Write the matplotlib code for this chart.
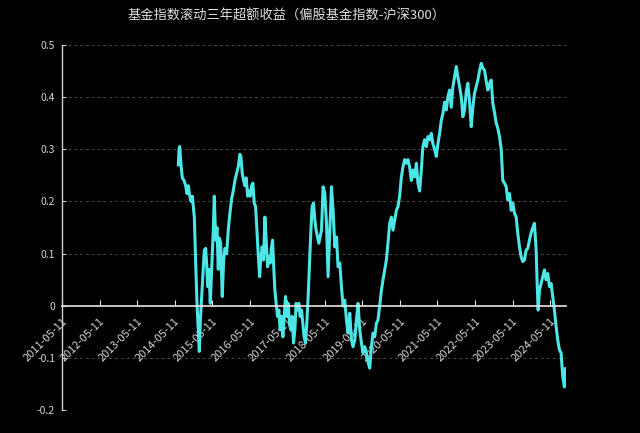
import numpy as np
import matplotlib
matplotlib.use('Agg')
import matplotlib.pyplot as plt
from matplotlib.ticker import FuncFormatter

plt.rcParams['font.family'] = ['Noto Sans CJK SC', 'DejaVu Sans']
plt.rcParams['axes.unicode_minus'] = False

# time in decimal years, rolling 3y excess return (fund index - CSI 300)
t = [2014.453, 2014.472, 2014.490, 2014.525, 2014.559, 2014.605, 2014.650, 2014.684, 2014.719, 2014.746,
     2014.791, 2014.825, 2014.879, 2014.916, 2014.950, 2014.985, 2015.012, 2015.038, 2015.075, 2015.118,
     2015.145, 2015.182, 2015.208, 2015.235, 2015.270, 2015.304, 2015.341, 2015.384, 2015.411, 2015.448,
     2015.482, 2015.517, 2015.544, 2015.581, 2015.623, 2015.661, 2015.695, 2015.740, 2015.783, 2015.828,
     2015.873, 2015.916, 2015.961, 2016.006, 2016.049, 2016.094, 2016.121, 2016.155, 2016.192, 2016.227,
     2016.262, 2016.299, 2016.333, 2016.368, 2016.405, 2016.440, 2016.474, 2016.512, 2016.546, 2016.581,
     2016.618, 2016.653, 2016.687, 2016.724, 2016.759, 2016.794, 2016.831, 2016.865, 2016.900, 2016.937,
     2016.964, 2016.998, 2017.025, 2017.059, 2017.097, 2017.131, 2017.166, 2017.203, 2017.238, 2017.272,
     2017.309, 2017.344, 2017.379, 2017.416, 2017.450, 2017.485, 2017.522, 2017.557, 2017.591, 2017.629,
     2017.663, 2017.698, 2017.735, 2017.770, 2017.804, 2017.841, 2017.876, 2017.911, 2017.948, 2017.982,
     2018.017, 2018.054, 2018.089, 2018.123, 2018.161, 2018.195, 2018.230, 2018.267, 2018.310, 2018.355,
     2018.400, 2018.442, 2018.488, 2018.533, 2018.576, 2018.621, 2018.666, 2018.708, 2018.754, 2018.799,
     2018.841, 2018.887, 2018.932, 2018.974, 2019.020, 2019.065, 2019.107, 2019.153, 2019.198, 2019.240,
     2019.286, 2019.331, 2019.373, 2019.419, 2019.464, 2019.506, 2019.551, 2019.597, 2019.639, 2019.684,
     2019.730, 2019.772, 2019.817, 2019.863, 2019.905, 2019.950, 2019.996, 2020.038, 2020.083, 2020.129,
     2020.171, 2020.216, 2020.262, 2020.304, 2020.349, 2020.395, 2020.437, 2020.482, 2020.528, 2020.570,
     2020.615, 2020.661, 2020.703, 2020.748, 2020.794, 2020.836, 2020.881, 2020.927, 2020.953, 2020.969,
     2021.014, 2021.059, 2021.102, 2021.147, 2021.192, 2021.235, 2021.280, 2021.325, 2021.368, 2021.413,
     2021.458, 2021.501, 2021.546, 2021.591, 2021.634, 2021.679, 2021.724, 2021.767, 2021.812, 2021.857,
     2021.900, 2021.945, 2021.990, 2022.033, 2022.078, 2022.123, 2022.166, 2022.211, 2022.256, 2022.299,
     2022.344, 2022.389, 2022.432, 2022.477, 2022.522, 2022.565, 2022.610, 2022.655, 2022.698, 2022.743,
     2022.788, 2022.831, 2022.876, 2022.921, 2022.964, 2023.009, 2023.054, 2023.097, 2023.142, 2023.187,
     2023.230, 2023.275, 2023.320, 2023.363, 2023.408, 2023.453, 2023.496, 2023.541, 2023.586, 2023.629,
     2023.674, 2023.719, 2023.762, 2023.807, 2023.852, 2023.895, 2023.940, 2023.985, 2024.012, 2024.038,
     2024.073, 2024.118, 2024.161, 2024.206, 2024.251, 2024.294, 2024.339, 2024.384, 2024.427, 2024.472,
     2024.517, 2024.560, 2024.605, 2024.650, 2024.693, 2024.738, 2024.764]

excess = [0.27, 0.30, 0.305, 0.27, 0.245, 0.24, 0.23, 0.215, 0.23, 0.215,
          0.20, 0.21, 0.17, 0.08, 0.005, -0.045, -0.087, -0.03, 0.018, 0.07,
          0.107, 0.11, 0.08, 0.037, 0.07, 0.005, 0.07, 0.145, 0.21, 0.126,
          0.15, 0.07, 0.13, 0.12, 0.018, 0.088, 0.11, 0.10, 0.145, 0.178,
          0.205, 0.22, 0.24, 0.254, 0.266, 0.29, 0.285, 0.254, 0.24, 0.23,
          0.245, 0.21, 0.22, 0.21, 0.23, 0.235, 0.197, 0.19, 0.145, 0.10,
          0.056, 0.094, 0.113, 0.088, 0.17, 0.126, 0.075, 0.094, 0.082, 0.113,
          0.126, 0.069, 0.03, 0.005, -0.02, -0.008, -0.046, -0.02, -0.059, -0.02,
          0.018, -0.02, 0.005, -0.033, -0.046, -0.02, -0.071, -0.046, 0.005, -0.008,
          0.005, -0.02, -0.008, -0.033, -0.059, -0.071, -0.033, 0.018, 0.082, 0.14,
          0.19, 0.197, 0.165, 0.145, 0.132, 0.12, 0.132, 0.145, 0.228, 0.215,
          0.158, 0.056, 0.145, 0.228, 0.183, 0.113, 0.132, 0.075, 0.082, 0.037,
          0.0, 0.011, -0.027, -0.052, -0.014, -0.065, -0.078, -0.065, -0.027, 0.005,
          -0.046, -0.071, -0.09, -0.078, -0.09, -0.107, -0.119, -0.078, -0.052, -0.059,
          -0.033, -0.027, 0.0, 0.03, 0.05, 0.069, 0.088, 0.12, 0.158, 0.17,
          0.145, 0.164, 0.183, 0.19, 0.21, 0.247, 0.266, 0.28, 0.273, 0.28,
          0.266, 0.24, 0.26, 0.247, 0.273, 0.235, 0.22, 0.26, 0.29, 0.305,
          0.318, 0.305, 0.324, 0.318, 0.33, 0.31, 0.30, 0.286, 0.31, 0.33,
          0.355, 0.368, 0.39, 0.375, 0.40, 0.413, 0.38, 0.419, 0.438, 0.458,
          0.438, 0.42, 0.40, 0.362, 0.375, 0.41, 0.426, 0.39, 0.343, 0.38,
          0.407, 0.42, 0.432, 0.45, 0.464, 0.455, 0.451, 0.43, 0.413, 0.425,
          0.432, 0.388, 0.37, 0.35, 0.34, 0.324, 0.30, 0.24, 0.235, 0.228,
          0.203, 0.215, 0.183, 0.197, 0.177, 0.17, 0.139, 0.113, 0.094, 0.085,
          0.088, 0.107, 0.11, 0.126, 0.14, 0.15, 0.158, 0.107, 0.043, -0.008,
          0.03, 0.043, 0.056, 0.069, 0.05, 0.062, 0.037, 0.043, 0.018, -0.008,
          -0.039, -0.065, -0.084, -0.09, -0.135, -0.155, -0.12]

tick_years = list(range(2011, 2025))
tick_labels = ['{}-05-11'.format(y) for y in tick_years]
y_ticks = [-0.2, -0.1, 0, 0.1, 0.2, 0.3, 0.4, 0.5]

txt = '#d4d4d4'
fig = plt.figure(figsize=(6.4, 4.33), dpi=100, facecolor='black')
ax = fig.add_axes([0.097, 0.052, 0.787, 0.845], facecolor='black')

# spine position first: moving it resets the tick objects
ax.spines['top'].set_visible(False)
ax.spines['right'].set_visible(False)
ax.spines['bottom'].set_position(('data', 0))
ax.spines['bottom'].set_color('#e6e6e6')
ax.spines['left'].set_color('#d0d0d0')
ax.spines['bottom'].set_linewidth(1.2)
ax.spines['left'].set_linewidth(1.0)

ax.plot(t, excess, color='#4ce6e6', linewidth=2.2)

ax.set_ylim(-0.2, 0.5)
ax.set_xlim(2011 + 130 / 365, t[-1] + 0.01)
ax.set_yticks(y_ticks)
ax.yaxis.set_major_formatter(FuncFormatter(lambda v, p: '%g' % round(v, 2)))
ax.set_xticks([y + 130 / 365 for y in tick_years])
ax.set_xticklabels(tick_labels)

for v in y_ticks:
    if v != 0:
        ax.axhline(v, color='#4a4a4a', linewidth=0.7, linestyle=(0, (3, 3)), zorder=0)

ax.tick_params(axis='y', direction='in', length=3, color='#d0d0d0', labelcolor=txt, labelsize=7.5, pad=5)
ax.tick_params(axis='x', direction='in', length=4, color='#e6e6e6', labelcolor=txt, labelsize=8, pad=7)
plt.setp(ax.get_xticklabels(), rotation=45, ha='right', rotation_mode='anchor')

fig.text(0.447, 0.962, '基金指数滚动三年超额收益（偏股基金指数-沪深300）', color='#e0e0e0',
         fontsize=9.5, ha='center', va='center')

plt.savefig('out.png', dpi=100, facecolor='black')
